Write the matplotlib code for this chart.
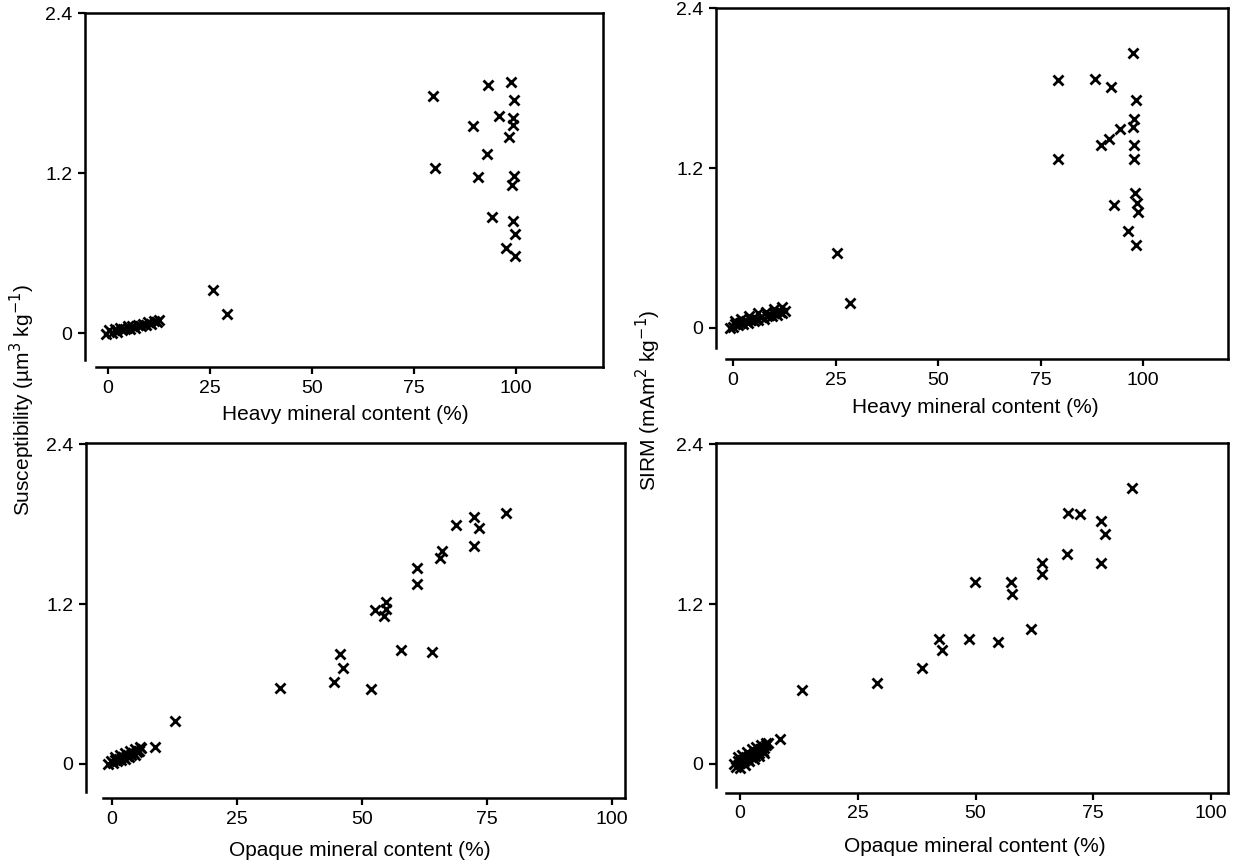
import matplotlib
matplotlib.use("Agg")
import matplotlib.pyplot as plt

plt.rcParams['font.family'] = ['Liberation Sans', 'DejaVu Sans']

W, H = 1258, 864

# ---------------- data ----------------
# Top-left: susceptibility vs heavy mineral content
tl_x = [-0.5, 0.3, 1.0, 1.6, 2.2, 2.9, 3.5, 4.1, 4.8, 5.4, 6.0, 6.7, 7.3, 8.0, 8.6, 9.3, 9.9, 10.6, 11.2, 11.9, 12.4,
        25.7, 29.1,
        79.7, 80.1, 93.2, 98.8, 99.5, 89.4, 95.8, 99.2, 99.2, 98.3, 92.8, 90.8, 99.4, 99.0, 94.1, 99.3, 99.7, 97.5, 99.8]
tl_y = [-0.01, 0.02, 0.00, 0.03, 0.01, 0.04, 0.02, 0.03, 0.05, 0.03, 0.05, 0.04, 0.06, 0.05, 0.07, 0.06, 0.08, 0.07, 0.09, 0.08, 0.10,
        0.32, 0.14,
        1.78, 1.24, 1.86, 1.88, 1.75, 1.55, 1.63, 1.61, 1.56, 1.47, 1.34, 1.17, 1.18, 1.11, 0.87, 0.84, 0.74, 0.64, 0.58]

# Top-right: SIRM vs heavy mineral content
tr_x = [-0.8, 0.0, 0.6, 1.2, 1.8, 2.5, 3.1, 3.7, 4.3, 5.0, 5.6, 6.2, 6.9, 7.5, 8.2, 8.8, 9.5, 10.1, 10.8, 11.4, 12.0, 12.6,
        0.5, 2.0, 4.0, 6.0, 8.0, 10.0, 12.0,
        25.4, 28.5,
        97.5, 79.3, 88.2, 92.2, 98.3, 97.9, 97.5, 94.4, 91.8, 89.8, 97.9, 97.9, 79.3, 98.0, 98.5, 98.7, 93.0, 96.4, 98.3]
tr_y = [0.00, 0.01, 0.03, 0.02, 0.04, 0.03, 0.05, 0.04, 0.06, 0.05, 0.07, 0.06, 0.08, 0.07, 0.09, 0.10, 0.09, 0.11, 0.10, 0.12, 0.11, 0.13,
        0.05, 0.07, 0.09, 0.11, 0.12, 0.14, 0.16,
        0.56, 0.19,
        2.06, 1.86, 1.87, 1.81, 1.71, 1.57, 1.51, 1.49, 1.42, 1.37, 1.37, 1.27, 1.27, 1.01, 0.94, 0.87, 0.92, 0.73, 0.62]

# Bottom-left: susceptibility vs opaque mineral content
bl_x = [-0.8, -0.3, 0.2, 0.6, 1.0, 1.4, 1.8, 2.2, 2.6, 3.0, 3.4, 3.8, 4.2, 4.6, 5.0, 5.4, 5.8,
        0.5, 1.5, 2.5, 3.5, 4.5, 5.5,
        8.5, 12.5, 33.5, 44.4, 45.6, 46.2, 51.8, 52.6, 57.7, 63.9, 54.8, 54.8, 54.4,
        60.9, 60.9, 65.5, 65.9, 68.7, 72.4, 72.4, 73.4, 78.8]
bl_y = [0.00, 0.02, 0.01, 0.03, 0.02, 0.04, 0.03, 0.05, 0.04, 0.06, 0.05, 0.07, 0.08, 0.07, 0.09, 0.10, 0.12,
        0.05, 0.07, 0.08, 0.10, 0.11, 0.13,
        0.13, 0.32, 0.57, 0.615, 0.825, 0.72, 0.56, 1.155, 0.855, 0.84, 1.215, 1.16, 1.11,
        1.35, 1.47, 1.545, 1.60, 1.79, 1.85, 1.635, 1.77, 1.88]

# Bottom-right: SIRM vs opaque mineral content
br_x = [-1.2, -0.8, -0.4, 0.0, 0.4, 0.8, 1.2, 1.6, 2.0, 2.4, 2.8, 3.2, 3.6, 4.0, 4.4, 4.8, 5.2, 5.6, 6.0,
        -0.5, 0.5, 1.5, 2.5, 3.5, 4.5, 5.5, 0.0, 1.0, 2.0, 3.0, 4.0, 5.0,
        8.5, 13.1, 29.0, 38.6, 42.2, 42.8, 48.7, 49.8, 54.7, 57.6, 57.8, 61.7, 64.2, 64.2,
        69.5, 69.7, 72.2, 76.7, 77.5, 76.7, 83.3]
br_y = [0.00, -0.02, 0.02, 0.01, 0.03, 0.02, 0.04, 0.03, 0.06, 0.05, 0.07, 0.06, 0.09, 0.08, 0.11, 0.10, 0.12, 0.14, 0.16,
        0.05, 0.07, 0.09, 0.11, 0.13, 0.14, 0.16, -0.03, -0.01, 0.02, 0.04, 0.06, 0.08,
        0.19, 0.555, 0.61, 0.72, 0.94, 0.855, 0.94, 1.365, 0.915, 1.365, 1.275, 1.01, 1.51, 1.425,
        1.575, 1.88, 1.875, 1.82, 1.725, 1.51, 2.07]

x_ticks = [0, 25, 50, 75, 100]
y_ticks = [0, 1.2, 2.4]
y_tick_labels = ['0', '1.2', '2.4']

fig = plt.figure(figsize=(W / 100, H / 100), dpi=100)


def make_ax(left, right, top, bottom, x0, pxx, y0, pxy, lspine_end, bspine_start):
    ax = fig.add_axes([left / W, 1 - bottom / H, (right - left) / W, (bottom - top) / H])
    ax.set_xlim((left - x0) / pxx, (right - x0) / pxx)
    ax.set_ylim((y0 - bottom) / pxy, (y0 - top) / pxy)
    ax.spines['left'].set_bounds((y0 - lspine_end) / pxy, (y0 - top) / pxy)
    ax.spines['bottom'].set_bounds((bspine_start - x0) / pxx, (right - x0) / pxx)
    for s in ax.spines.values():
        s.set_linewidth(1.8)
        s.set_color('black')
    ax.set_xticks(x_ticks)
    ax.set_yticks(y_ticks)
    ax.set_yticklabels(y_tick_labels)
    ax.tick_params(direction='out', length=5, width=1.6, labelsize=14, pad=4)
    return ax


panels = [
    (make_ax(85, 603, 13, 367, 108, 4.08, 333, 133.3, 360, 96), tl_x, tl_y),
    (make_ax(716, 1228, 8, 359, 733, 4.10, 328, 133.3, 348, 726), tr_x, tr_y),
    (make_ax(86, 625, 443, 798, 112, 5.00, 764, 133.3, 792, 103), bl_x, bl_y),
    (make_ax(716, 1228, 443, 793, 740, 4.71, 764, 133.3, 787, 726), br_x, br_y),
]

for ax, xs, ys in panels:
    ax.plot(xs, ys, linestyle='none', marker='x', markersize=7, markeredgewidth=2.0, color='black')

fig.text(345 / W, 1 - 414 / H, 'Heavy mineral content (%)', ha='center', va='center', fontsize=15)
fig.text(975 / W, 1 - 407 / H, 'Heavy mineral content (%)', ha='center', va='center', fontsize=15)
fig.text(360 / W, 1 - 850 / H, 'Opaque mineral content (%)', ha='center', va='center', fontsize=15)
fig.text(975 / W, 1 - 847 / H, 'Opaque mineral content (%)', ha='center', va='center', fontsize=15)

fig.text(22 / W, 1 - 400 / H, 'Susceptibility (µm$^3$ kg$^{-1}$)', rotation=90, ha='center', va='center', fontsize=15)
fig.text(648 / W, 1 - 400 / H, 'SIRM (mAm$^2$ kg$^{-1}$)', rotation=90, ha='center', va='center', fontsize=15)

fig.savefig('out.png', dpi=100)
